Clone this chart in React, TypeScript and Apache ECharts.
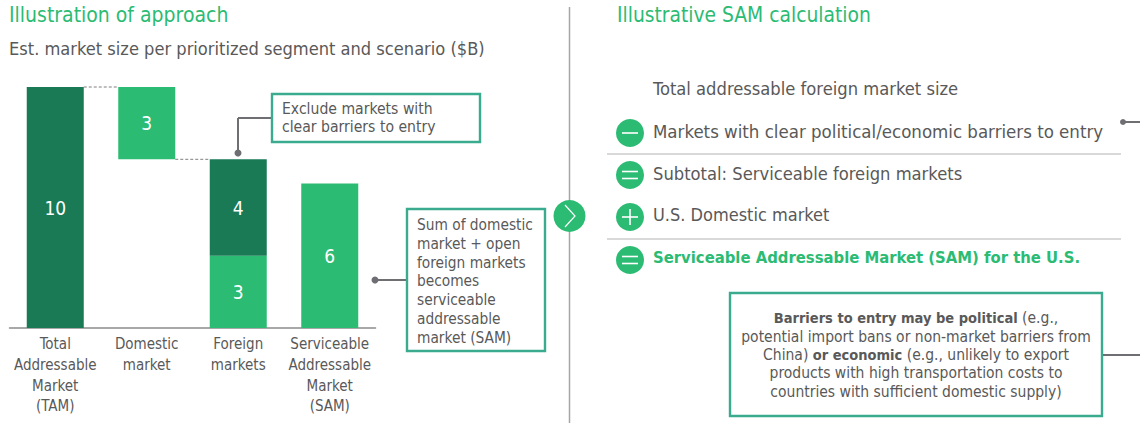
import React, { useEffect, useRef } from "react";
import * as echarts from "echarts";

const categories = ["Total\nAddressable\nMarket\n(TAM)", "Domestic\nmarket", "Foreign\nmarkets", "Serviceable\nAddressable\nMarket\n(SAM)"];
const baseValues = [null, 7, null, null];
const lightValues = [null, 3, 3, 6];
const darkValues = [10, null, 4, null];
const connectors = [[0, 10], [1, 7]];

const FONT = "'DejaVu Sans Condensed', 'DejaVu Sans', sans-serif";
const GREEN = "#2bbb73";
const DARK = "#1a7a56";
const BORDER = "#3aab8e";
const GREY = "#595959";
const LINE = "#6e6e73";
const SEP = "#d9d9d9";
const BAR_W = 57;

const txt = (x: number, y: number, text: string, size: number, fill = GREY, extra: any = {}) => ({
  type: "text", x, y,
  style: { text, fontSize: size, fontFamily: FONT, fill, verticalAlign: "middle", align: "left", ...extra },
});
const multi = (x: number, y: number, lines: string[], size: number, lh: number, extra: any = {}) => ({
  type: "text", x, y,
  style: { text: lines.join("\n"), fontSize: size, lineHeight: lh, fontFamily: FONT, fill: GREY, verticalAlign: "top", align: "left", ...extra },
});
const box = (x: number, y: number, w: number, h: number) => ({
  type: "rect", shape: { x, y, width: w, height: h }, style: { fill: "#fff", stroke: BORDER, lineWidth: 2.4 },
});
const ln = (x1: number, y1: number, x2: number, y2: number, stroke = LINE, lineWidth = 2) => ({
  type: "line", shape: { x1, y1, x2, y2 }, style: { stroke, lineWidth },
});
const dot = (cx: number, cy: number, r = 3.5) => ({ type: "circle", shape: { cx, cy, r }, style: { fill: LINE } });
const icon = (cy: number, kind: string) => {
  const cx = 630;
  const out: any[] = [{ type: "circle", shape: { cx, cy, r: 14 }, style: { fill: GREEN } }];
  const w = { stroke: "#fff", lineWidth: 1.6 };
  if (kind === "minus") out.push({ type: "line", shape: { x1: cx - 8, y1: cy, x2: cx + 8, y2: cy }, style: w });
  if (kind === "equals") {
    out.push({ type: "line", shape: { x1: cx - 8, y1: cy - 3.5, x2: cx + 8, y2: cy - 3.5 }, style: w });
    out.push({ type: "line", shape: { x1: cx - 8, y1: cy + 3.5, x2: cx + 8, y2: cy + 3.5 }, style: w });
  }
  if (kind === "plus") {
    out.push({ type: "line", shape: { x1: cx - 8, y1: cy, x2: cx + 8, y2: cy }, style: w });
    out.push({ type: "line", shape: { x1: cx, y1: cy - 8, x2: cx, y2: cy + 8 }, style: w });
  }
  return out;
};

export default function App() {
  const ref = useRef<HTMLDivElement>(null);
  useEffect(() => {
    const chart = echarts.init(ref.current!, null, { renderer: "svg" });
    const barLabel = { show: true, position: "inside", color: "#fff", fontSize: 19, fontFamily: FONT };
    chart.setOption({
      animation: false,
      backgroundColor: "#fff",
      grid: { left: 9.5, top: 87, width: 366, height: 241, containLabel: false },
      xAxis: {
        type: "category", data: categories,
        axisTick: { show: false },
        axisLine: { lineStyle: { color: "#8c8c8c", width: 1.5 } },
        axisLabel: { color: GREY, fontSize: 15, lineHeight: 20.7, fontFamily: FONT, margin: 6, interval: 0 },
      },
      yAxis: { type: "value", min: 0, max: 10, show: false },
      series: [
        { type: "bar", stack: "s", barWidth: BAR_W, data: baseValues, itemStyle: { color: "transparent" }, silent: true },
        { type: "bar", stack: "s", barWidth: BAR_W, data: lightValues, itemStyle: { color: GREEN }, label: barLabel },
        { type: "bar", stack: "s", barWidth: BAR_W, data: darkValues, itemStyle: { color: DARK }, label: barLabel },
        {
          type: "custom", data: connectors, silent: true,
          encode: { x: 0, y: 1 },
          renderItem: (_p: any, api: any) => {
            const a = api.coord([api.value(0), api.value(1)]);
            const b = api.coord([api.value(0) + 1, api.value(1)]);
            return {
              type: "line",
              shape: { x1: a[0] + BAR_W / 2, y1: a[1], x2: b[0] - BAR_W / 2, y2: b[1] },
              style: { stroke: "#7f7f7f", lineWidth: 1, lineDash: [3, 2] },
            };
          },
        },
      ],
      graphic: [
        txt(9, 15, "Illustration of approach", 21, GREEN),
        txt(9, 48.5, "Est. market size per prioritized segment and scenario ($B)", 18.1),
        ln(238, 118, 272, 118), ln(238, 118, 238, 153), dot(238, 153),
        box(272, 94, 208, 48),
        multi(282, 99.5, ["Exclude markets with", "clear barriers to entry"], 15.6, 18.5),
        ln(375, 280, 407, 280), dot(375, 280),
        box(407, 209, 138, 142),
        multi(417, 216, ["Sum of domestic", "market + open", "foreign markets", "becomes", "serviceable", "addressable", "market (SAM)"], 15.3, 18.7),

        ln(569.5, 7, 569.5, 423, "#a6a6a6", 1.5),
        { type: "circle", shape: { cx: 569.5, cy: 216, r: 16 }, style: { fill: GREEN } },
        { type: "polyline", shape: { points: [[565, 205], [575, 216], [565, 227]] }, style: { stroke: "#fff", lineWidth: 1.2, fill: "none" } },

        txt(617, 15, "Illustrative SAM calculation", 20.8, GREEN),
        txt(653, 88.5, "Total addressable foreign market size", 18.2),
        ...icon(133, "minus"),
        txt(653, 131.5, "Markets with clear political/economic barriers to entry", 18.5),
        ln(607, 154, 1121, 154, SEP, 2),
        ...icon(175, "equals"),
        txt(653, 173.5, "Subtotal: Serviceable foreign markets", 18.2),
        ...icon(217, "plus"),
        txt(653, 214.5, "U.S. Domestic market", 18),
        ln(607, 239, 1121, 239, SEP, 2),
        ...icon(260, "equals"),
        txt(653, 257.5, "Serviceable Addressable Market (SAM) for the U.S.", 16.5, GREEN, { fontWeight: "bold" }),
        ln(1122, 122, 1140, 122), dot(1123, 122, 3),

        box(730, 293, 372, 123),
        ln(1103, 355, 1140, 355),
        {
          type: "text", x: 916, y: 309,
          style: {
            text: "{b|Barriers to entry may be political} (e.g.,\npotential import bans or non-market barriers from\nChina) {b|or economic} (e.g., unlikely to export\nproducts with high transportation costs to\ncountries with sufficient domestic supply)",
            fontSize: 15.5, lineHeight: 18.4, fontFamily: FONT, fill: GREY, align: "center", verticalAlign: "top",
            rich: { b: { fontWeight: "bold", fontSize: 14.5, lineHeight: 18.4, fontFamily: FONT, fill: GREY } },
          },
        },
      ],
    });
    return () => chart.dispose();
  }, []);
  return <div ref={ref} style={{ position: "fixed", left: 0, top: 0, width: 1140, height: 423 }} />;
}
